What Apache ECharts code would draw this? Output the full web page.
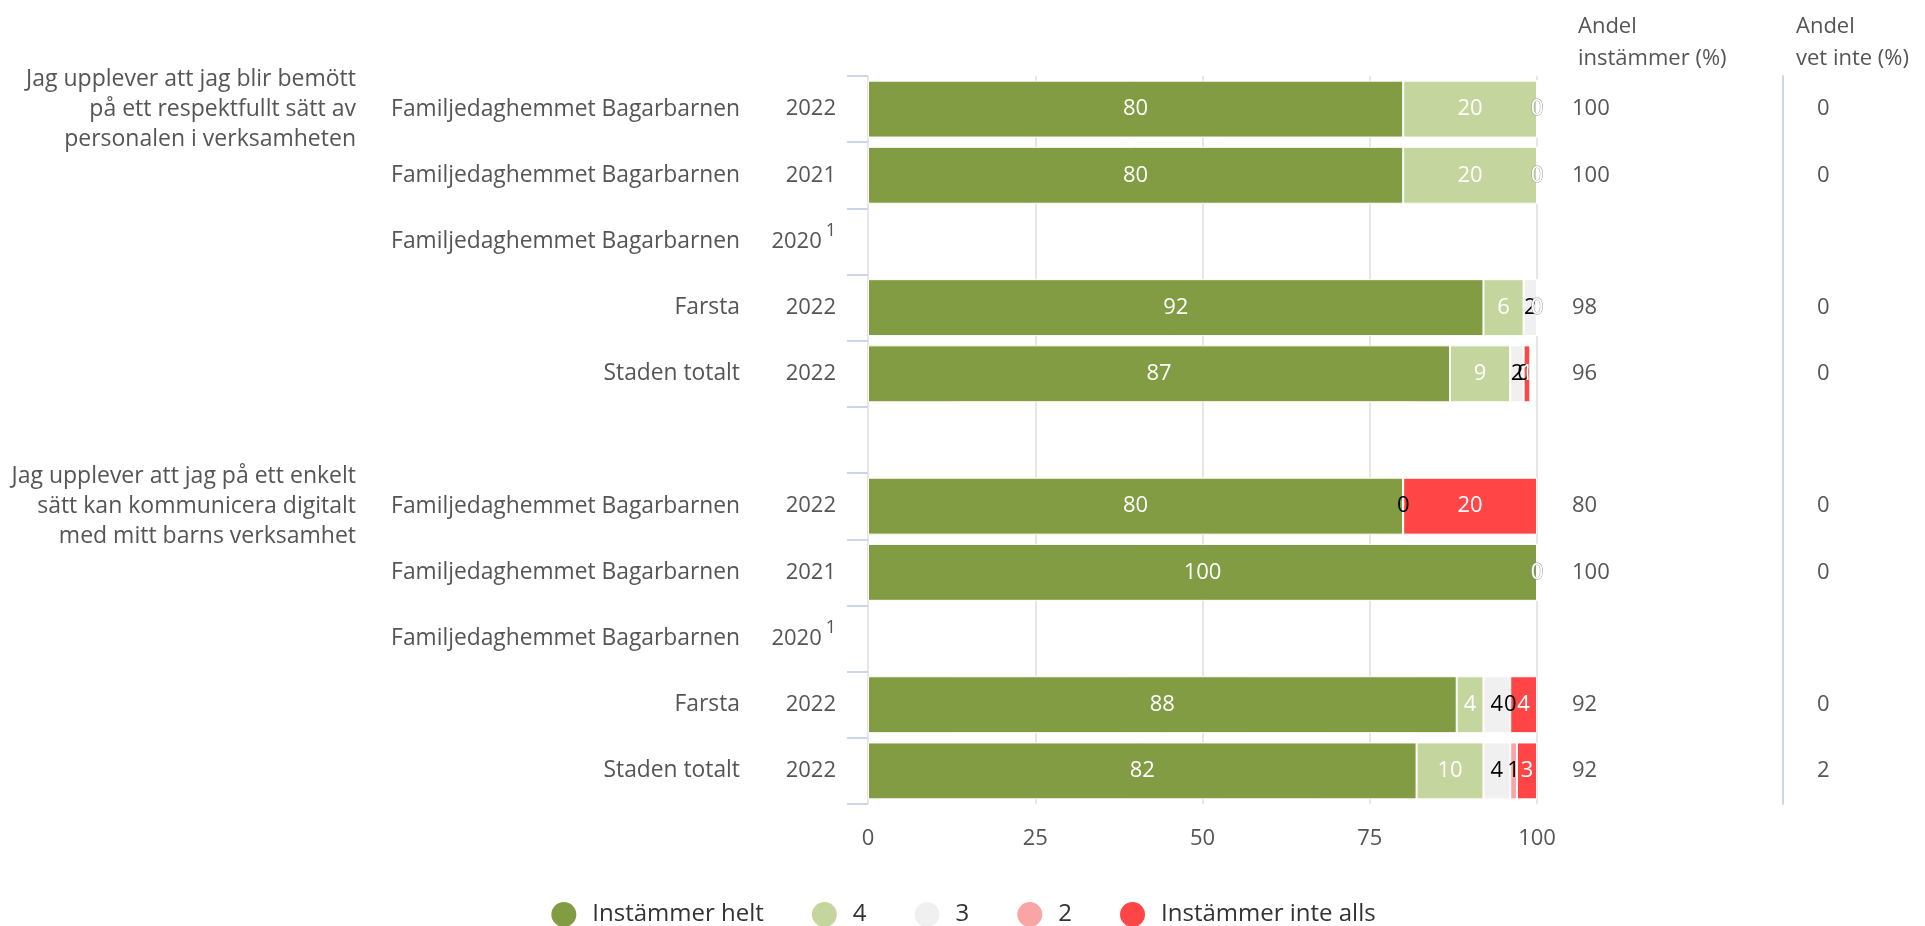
<!DOCTYPE html>
<html>
<head>
<meta charset="utf-8">
<script src="https://cdn.jsdelivr.net/npm/echarts@6/dist/echarts.min.js"></script>
<style>
  html, body { margin: 0; padding: 0; background: #fff; }
  #chart { width: 1925px; height: 926px; }
</style>
</head>
<body>
<div id="chart"></div>
<script>
// kategorier (rad för rad, tom rad mellan frågorna)
var unitNames = ['Familjedaghemmet Bagarbarnen', 'Familjedaghemmet Bagarbarnen', 'Familjedaghemmet Bagarbarnen', 'Farsta', 'Staden totalt', '',
                 'Familjedaghemmet Bagarbarnen', 'Familjedaghemmet Bagarbarnen', 'Familjedaghemmet Bagarbarnen', 'Farsta', 'Staden totalt'];
var years = ['2022', '2021', '2020', '2022', '2022', '', '2022', '2021', '2020', '2022', '2022'];
var footnote = ['', '', '1', '', '', '', '', '', '1', '', ''];
var questions = ['Jag upplever att jag blir bemött\npå ett respektfullt sätt av\npersonalen i verksamheten', '', '', '', '', '',
                 'Jag upplever att jag på ett enkelt\nsätt kan kommunicera digitalt\nmed mitt barns verksamhet', '', '', '', ''];

// andelar per svarsalternativ
var helt     = [80, 80, null, 92, 87, null, 80, 100, null, 88, 82];
var fyra     = [20, 20, null, 6, 9, null, 0, 0, null, 4, 10];
var tre      = [0, 0, null, 2, 2, null, 0, 0, null, 4, 4];
var tva      = [0, 0, null, 0, 0, null, 0, 0, null, 0, 1];
var inteAlls = [0, 0, null, 0, 1, null, 20, 0, null, 4, 3];

var andelInstammer = ['100', '100', '', '98', '96', '', '80', '100', '', '92', '92'];
var andelVetInte   = ['0', '0', '', '0', '0', '', '0', '0', '', '0', '2'];

var seriesNames = ['Instämmer helt', '4', '3', '2', 'Instämmer inte alls'];
var seriesColors = ['#819c43', '#c4d69d', '#f0f0f0', '#f9a5a5', '#ff4545'];
var labelColors = ['#fff', '#fff', '#000', '#000', '#fff'];
var allData = [helt, fyra, tre, tva, inteAlls];

var font = 'Open Sans';
var textGray = '#555';

var chart = echarts.init(document.getElementById('chart'));

// nollor visas bara om nästa segment inte också är noll (som i originalet)
function buildData(s) {
    return allData[s].map(function (v, i) {
        if (v === null) return null;
        var item = { value: v };
        if (v === 0) {
            var next = s < allData.length - 1 ? allData[s + 1][i] : null;
            if (s < allData.length - 1 && next === 0) {
                item.label = { show: false };
            } else if (labelColors[s] === '#fff') {
                item.label = { textBorderColor: '#999', textBorderWidth: 1 };
            }
        }
        return item;
    });
}

var series = seriesNames.map(function (name, s) {
    return {
        name: name,
        type: 'bar',
        stack: 'total',
        barCategoryGap: '14%',
        data: buildData(s),
        itemStyle: { color: seriesColors[s], borderColor: '#fff', borderWidth: 1 },
        label: {
            show: true,
            position: 'inside',
            color: labelColors[s],
            fontFamily: font,
            fontSize: 22
        },
        emphasis: { disabled: true }
    };
});

var hiddenAxis = { show: false };

var option = {
    animation: false,
    textStyle: { fontFamily: font },
    title: [
        { text: 'Andel\ninstämmer (%)', left: 1573, top: 6, textStyle: { fontFamily: font, fontSize: 22, fontWeight: 'normal', color: textGray, lineHeight: 32 } },
        { text: 'Andel\nvet inte (%)', left: 1791, top: 6, textStyle: { fontFamily: font, fontSize: 22, fontWeight: 'normal', color: textGray, lineHeight: 32 } }
    ],
    legend: {
        data: seriesNames,
        left: 'center',
        top: 895,
        icon: 'circle',
        itemWidth: 27,
        itemHeight: 27,
        itemGap: 46,
        textStyle: { fontFamily: font, fontSize: 24, color: '#333', padding: [0, 0, 0, 10] }
    },
    grid: { left: 868, right: 388, top: 76, bottom: 122, containLabel: false, outerBoundsMode: 'none' },
    xAxis: {
        type: 'value',
        min: 0,
        max: 100,
        interval: 25,
        axisLine: { show: false },
        axisTick: { show: false },
        splitLine: { show: true, lineStyle: { color: '#e6e6e6', width: 2 } },
        axisLabel: { color: textGray, fontFamily: font, fontSize: 22, margin: 24 }
    },
    yAxis: [
        {   // år + tickmarks
            type: 'category',
            data: unitNames,
            inverse: true,
            position: 'left',
            axisLine: { show: false },
            axisTick: { show: true, length: 21, lineStyle: { color: '#ccd6eb', width: 2 } },
            axisLabel: {
                interval: 0,
                margin: 32,
                formatter: function (v, i) {
                    return footnote[i] ? '{y|' + years[i] + '}{s|' + footnote[i] + '}' : '{y|' + years[i] + '}';
                },
                rich: {
                    y: { fontFamily: font, fontSize: 22, color: textGray },
                    s: { fontFamily: font, fontSize: 18, color: textGray, padding: [0, 0, 22, 4] }
                }
            }
        },
        {   // enhetsnamn
            type: 'category',
            data: unitNames,
            inverse: true,
            position: 'left',
            axisLine: hiddenAxis,
            axisTick: hiddenAxis,
            axisLabel: {
                interval: 0,
                margin: 128,
                color: textGray,
                fontFamily: font,
                fontSize: 22.8,
                formatter: function (v, i) { return unitNames[i]; }
            }
        },
        {   // frågetexter
            type: 'category',
            data: unitNames,
            inverse: true,
            position: 'left',
            axisLine: hiddenAxis,
            axisTick: hiddenAxis,
            axisLabel: {
                interval: 0,
                margin: 512,
                color: textGray,
                fontFamily: font,
                fontSize: 23,
                lineHeight: 30,
                align: 'right',
                formatter: function (v, i) { return questions[i]; }
            }
        },
        {   // andel instämmer
            type: 'category',
            data: unitNames,
            inverse: true,
            position: 'right',
            axisLine: hiddenAxis,
            axisTick: hiddenAxis,
            axisLabel: {
                interval: 0,
                margin: 35,
                color: textGray,
                fontFamily: font,
                fontSize: 22,
                formatter: function (v, i) { return andelInstammer[i]; }
            }
        },
        {   // andel vet inte
            type: 'category',
            data: unitNames,
            inverse: true,
            position: 'right',
            offset: 246,
            axisLine: { show: true, lineStyle: { color: '#ccd6eb', width: 2 } },
            axisTick: hiddenAxis,
            axisLabel: {
                interval: 0,
                margin: 34,
                color: textGray,
                fontFamily: font,
                fontSize: 22,
                formatter: function (v, i) { return andelVetInte[i]; }
            }
        }
    ],
    series: series
};

chart.setOption(option);
</script>
</body>
</html>
